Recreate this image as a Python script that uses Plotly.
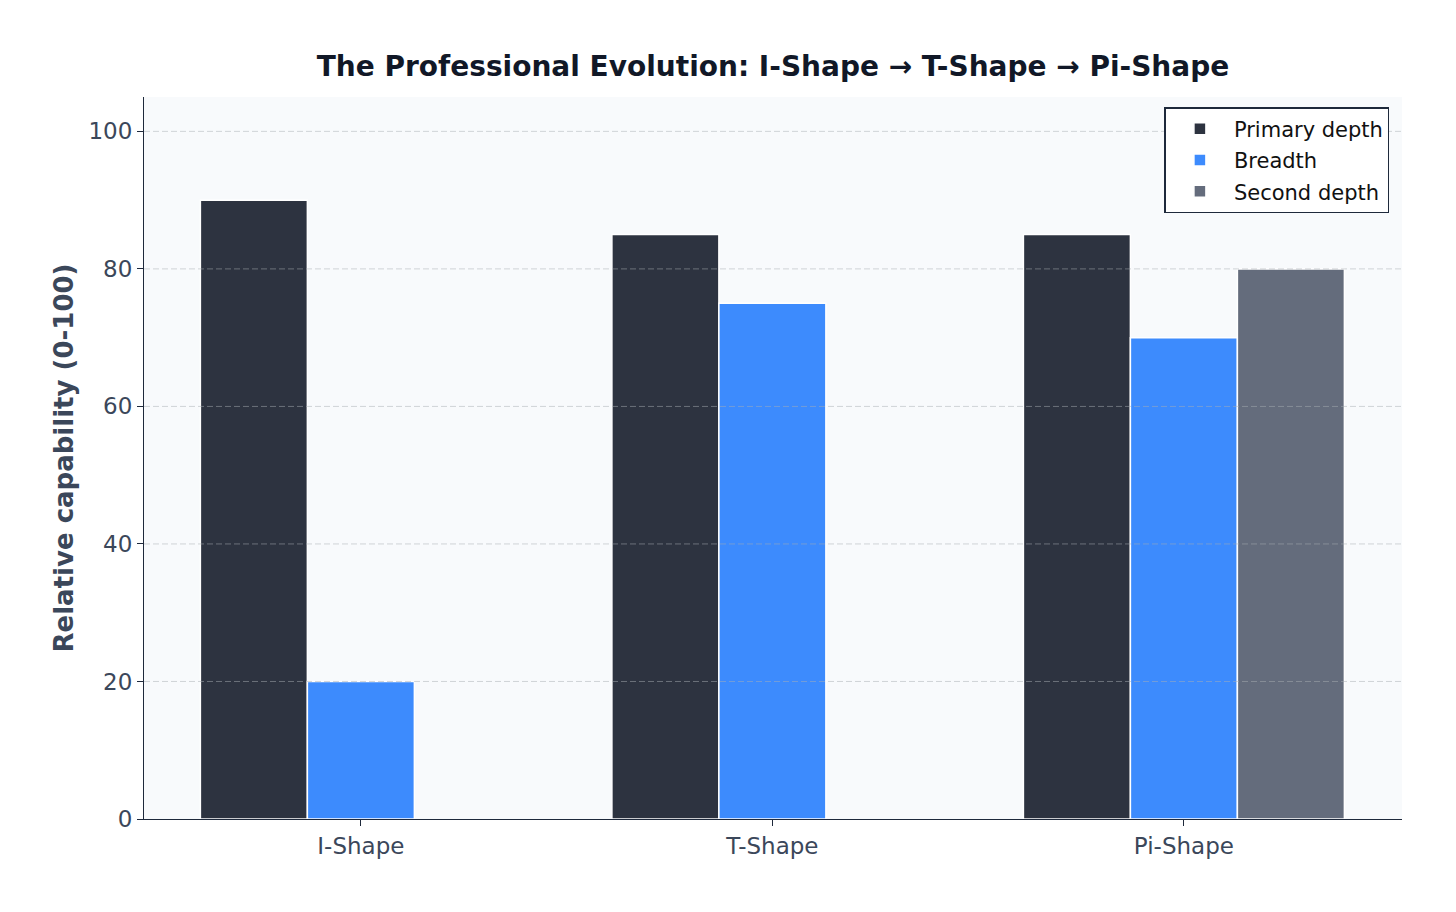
import plotly.graph_objects as go

categories = ["I-Shape", "T-Shape", "Pi-Shape"]
primary_depth = [90, 85, 85]
breadth = [20, 75, 70]
second_depth = [None, None, 80]
y_ticks = [0, 20, 40, 60, 80, 100]

series = [
    ("Primary depth", primary_depth, "#2D3340"),
    ("Breadth", breadth, "#3D8BFD"),
    ("Second depth", second_depth, "#646C7C"),
]

fig = go.Figure()
for name, vals, color in series:
    fig.add_trace(go.Bar(
        x=categories, y=vals, name=name, legendgroup=name,
        marker=dict(color=color, line=dict(color="white", width=1.5)),
    ))

shapes = []
for t in y_ticks[1:]:
    shapes.append(dict(type="line", xref="paper", x0=0, x1=1, yref="y", y0=t, y1=t,
                       line=dict(color="rgba(170,175,180,0.5)", width=1, dash="6px,3px"),
                       layer="above"))

fig.update_layout(
    width=1456, height=912,
    margin=dict(l=144, r=54, t=97, b=93),
    paper_bgcolor="white",
    plot_bgcolor="#F8FAFC",
    barmode="group",
    bargap=0.22,
    bargroupgap=0,
    font=dict(family="DejaVu Sans", size=23, color="#3B475A"),
    title=dict(text="<b>The Professional Evolution: I-Shape → T-Shape → Pi-Shape</b>",
               x=(144 + (1456 - 144 - 54) / 2) / 1456, xanchor="center",
               y=1 - 66 / 912, yanchor="middle",
               font=dict(family="DejaVu Sans", size=28, color="#111827")),
    xaxis=dict(range=[-0.527, 2.53], showline=True, linecolor="#1E293B", linewidth=1.2,
               ticks="outside", ticklen=6, tickcolor="#1E293B", showgrid=False,
               tickfont=dict(size=23, color="#3B475A"), mirror=False),
    yaxis=dict(range=[0, 105], tickvals=y_ticks, showline=True, linecolor="#1E293B", linewidth=1.2,
               ticks="outside", ticklen=6, tickcolor="#1E293B", showgrid=False, zeroline=False,
               tickfont=dict(size=23, color="#3B475A"),
               title=dict(text="<b>Relative capability (0-100)</b>", standoff=7,
                          font=dict(size=26, color="#3B475A"))),
    legend=dict(x=0.99, y=0.986, xanchor="right", yanchor="top",
                bgcolor="white", bordercolor="#1E293B", borderwidth=1.5,
                font=dict(size=21, color="#111111"), tracegroupgap=1,
                itemwidth=58),
    shapes=shapes,
)

fig.write_html("out.html")
